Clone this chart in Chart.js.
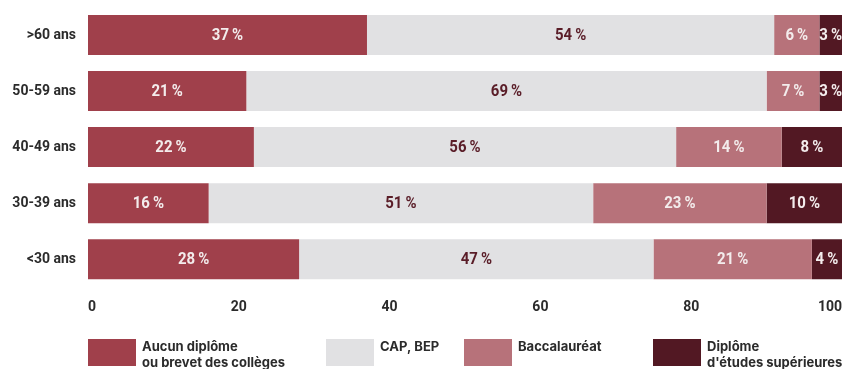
<!DOCTYPE html>
<html>
<head>
<meta charset="utf-8">
<script src="https://cdn.jsdelivr.net/npm/chart.js@4"></script>
<style>
  html, body { margin: 0; padding: 0; background: #fff; }
  #wrap { position: relative; width: 852px; height: 369px; }
</style>
</head>
<body>
<div id="wrap"><canvas id="diplomes"></canvas></div>
<script>
// Niveau de diplôme par tranche d'âge (en %)
const ages = ['>60 ans', '50-59 ans', '40-49 ans', '30-39 ans', '<30 ans'];
const aucun = [37, 21, 22, 16, 28];
const capBep = [54, 69, 56, 51, 47];
const bac = [6, 7, 14, 23, 21];
const superieur = [3, 3, 8, 10, 4];
const xTicks = [0, 20, 40, 60, 80, 100];

const series = [
  { label: ['Aucun diplôme', 'ou brevet des collèges'], data: aucun, color: '#a0404b', text: '#f3ecec' },
  { label: ['CAP, BEP'], data: capBep, color: '#e1e1e3', text: '#5a1d28' },
  { label: ['Baccalauréat'], data: bac, color: '#b7727a', text: '#f3ecec' },
  { label: ['Diplôme', "d'études supérieures"], data: superieur, color: '#521823', text: '#f3ecec' }
];
const legendX = [88, 326, 464, 653];

const axisFont = { family: 'Roboto', weight: 'bold', size: 14 };

// étiquettes de valeur au centre de chaque segment (police resserrée)
const valueLabels = {
  id: 'valueLabels',
  afterDatasetsDraw(chart) {
    const ctx = chart.ctx;
    chart.data.datasets.forEach((ds, i) => {
      chart.getDatasetMeta(i).data.forEach((bar, j) => {
        const x = (bar.base + bar.x) / 2;
        ctx.save();
        ctx.translate(x, bar.y + 1);
        ctx.scale(0.88, 1);
        ctx.font = "bold 17px Roboto";
        ctx.textAlign = 'center';
        ctx.textBaseline = 'middle';
        ctx.fillStyle = series[i].text;
        ctx.fillText(ds.data[j] + '\u2009%', 0, 0);
        ctx.restore();
      });
    });
  }
};

// légende sur deux lignes en bas du canevas
const bottomLegend = {
  id: 'bottomLegend',
  afterDraw(chart) {
    const ctx = chart.ctx;
    const top = chart.height - 30;
    ctx.save();
    ctx.font = 'bold 13px Inter';
    ctx.textBaseline = 'middle';
    ctx.textAlign = 'left';
    series.forEach((s, i) => {
      const x = legendX[i];
      ctx.fillStyle = s.color;
      ctx.fillRect(x, top, 48, 27);
      ctx.fillStyle = '#2b2b2b';
      s.label.forEach((line, k) => {
        ctx.fillText(line, x + 54, top + 8 + k * 16);
      });
    });
    ctx.restore();
  }
};

new Chart(document.getElementById('diplomes'), {
  type: 'bar',
  data: {
    labels: ages,
    datasets: series.map(s => ({
      label: s.label.join(' '),
      data: s.data,
      backgroundColor: s.color,
      borderWidth: 0,
      categoryPercentage: 1,
      barPercentage: 0.714
    }))
  },
  options: {
    indexAxis: 'y',
    responsive: true,
    maintainAspectRatio: false,
    animation: false,
    layout: { padding: { top: 7, right: 10, bottom: 41, left: 0 } },
    plugins: {
      legend: { display: false },
      tooltip: { enabled: false }
    },
    scales: {
      x: {
        stacked: true,
        min: 0,
        max: 100,
        afterBuildTicks(scale) { scale.ticks = xTicks.map(v => ({ value: v })); },
        afterFit(scale) { scale.paddingLeft = 0; scale.paddingRight = 0; },
        grid: { display: false, drawTicks: false, tickLength: 0 },
        border: { display: false },
        ticks: { font: axisFont, color: '#2b2b2b', padding: 12, maxRotation: 0, align: 'inner' }
      },
      y: {
        stacked: true,
        afterFit(scale) { scale.width = 88; scale.paddingTop = 0; scale.paddingBottom = 0; },
        grid: { display: false, drawTicks: false, tickLength: 0 },
        border: { display: false },
        ticks: { font: axisFont, color: '#2b2b2b', padding: 12 }
      }
    }
  },
  plugins: [valueLabels, bottomLegend]
});
</script>
</body>
</html>
